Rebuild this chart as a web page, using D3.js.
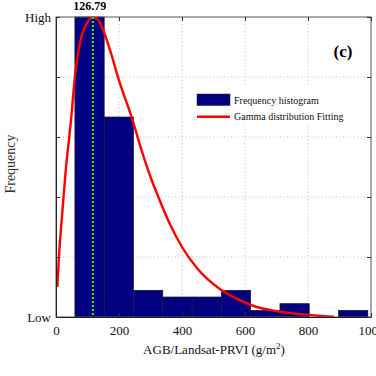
<!DOCTYPE html>
<html><head><meta charset="utf-8">
<script src="https://cdn.jsdelivr.net/npm/d3@7"></script>
<style>body{margin:0;background:#fff}svg{display:block}text{font-family:"Liberation Serif","Times New Roman",serif}</style>
</head><body>
<svg id="c" width="376" height="376"></svg>
<script>
const binEdges = [60, 153, 246, 339, 432, 525, 618, 711, 804, 897, 990];
const binCounts = [45, 30, 4, 3, 3, 4, 1, 2, 0, 1];
const curveX = [4, 10, 18, 30, 47.6, 60, 76, 95, 116.5, 133, 150, 175, 200, 240, 275, 300, 325, 360, 400, 450, 520, 580, 637, 700, 760, 820, 882];
const curveY = [4.5, 9.5, 14.5, 21.5, 29.5, 36.0, 41.1, 43.8, 44.9, 44.6, 43.0, 39.5, 35.5, 30.0, 24.5, 21.0, 18.0, 14.1, 10.5, 7.2, 4.2, 2.6, 1.5, 0.9, 0.5, 0.25, 0.05];
const modeValue = 117;
const modeLabel = "126.79";
const xTicks = [0, 200, 400, 600, 800, 1000];
const xTickLabels = ["0", "200", "400", "600", "800", "1000"];
const yTicks = [0, 9, 18, 27, 36, 45];
const yTickLabels = ["Low", "", "", "", "", "High"];
const legendLabels = ["Frequency histogram", "Gamma distribution Fitting"];

const svg = d3.select("#c");
const L = 56, R = 371, T = 17, B = 317;
const x = d3.scaleLinear().domain([0, 1000]).range([L, R]);
const y = d3.scaleLinear().domain([0, 45]).range([B, T]);

svg.append("clipPath").attr("id","clip").append("rect").attr("x",L).attr("y",T-2).attr("width",R-L).attr("height",B-T+2);

// grid
const grid = svg.append("g").attr("stroke","#b0b0b0").attr("stroke-width",0.8).attr("stroke-dasharray","1,2.5");
grid.selectAll("line.v").data(xTicks.slice(1,-1)).join("line")
  .attr("x1",d=>x(d)).attr("x2",d=>x(d)).attr("y1",T).attr("y2",B);
grid.selectAll("line.h").data(yTicks.slice(1,-1)).join("line")
  .attr("y1",d=>y(d)).attr("y2",d=>y(d)).attr("x1",L).attr("x2",R);

// bars
const bars = binCounts.map((c,i)=>({x0:binEdges[i], x1:binEdges[i+1], c}));
svg.append("g").selectAll("rect").data(bars.filter(b=>b.c>0)).join("rect")
  .attr("x",d=>x(d.x0)).attr("width",d=>x(d.x1)-x(d.x0))
  .attr("y",d=>y(d.c)).attr("height",d=>y(0)-y(d.c))
  .attr("fill","#000080").attr("stroke","#1a1a2e").attr("stroke-width",0.7);

// legend background
svg.append("rect").attr("x",190).attr("y",87).attr("width",160).attr("height",37).attr("fill","#fff");

// curve
const pts = curveX.map((v,i)=>[v, curveY[i]]);
svg.append("path").datum(pts)
  .attr("clip-path","url(#clip)")
  .attr("d", d3.line().x(d=>x(d[0])).y(d=>y(d[1])).curve(d3.curveMonotoneX))
  .attr("fill","none").attr("stroke","#ff0000").attr("stroke-width",2.4);

// mode line
svg.append("line").attr("x1",x(modeValue)).attr("x2",x(modeValue)).attr("y1",T).attr("y2",B)
  .attr("stroke","#22ee22").attr("stroke-width",2.2).attr("stroke-dasharray","2,2");
svg.append("text").attr("x",x(modeValue)-3).attr("y",10).attr("text-anchor","middle")
  .attr("font-size",12).attr("font-weight","bold").text(modeLabel);

// frame
svg.append("rect").attr("x",L).attr("y",T).attr("width",R-L).attr("height",B-T)
  .attr("fill","none").attr("stroke","#555").attr("stroke-width",1);

// axes
const xAxis = d3.axisBottom(x).tickValues(xTicks).tickFormat((d,i)=>xTickLabels[i]).tickSizeInner(-4).tickSizeOuter(0).tickPadding(9);
const gx = svg.append("g").attr("transform",`translate(0,${B})`).call(xAxis);
const yAxis = d3.axisLeft(y).tickValues(yTicks).tickFormat((d,i)=>yTickLabels[i]).tickSizeInner(-4).tickSizeOuter(0).tickPadding(5);
const gy = svg.append("g").attr("transform",`translate(${L},0)`).call(yAxis);
const xTop = d3.axisTop(x).tickValues(xTicks).tickFormat("").tickSizeInner(-4).tickSizeOuter(0);
svg.append("g").attr("transform",`translate(0,${T})`).call(xTop).select(".domain").remove();
const yRight = d3.axisRight(y).tickValues(yTicks).tickFormat("").tickSizeInner(-4).tickSizeOuter(0);
svg.append("g").attr("transform",`translate(${R},0)`).call(yRight).select(".domain").remove();
[gx, gy].forEach(g=>{
  g.select(".domain").attr("stroke","#222");
  g.selectAll("text").attr("font-family","Liberation Serif").attr("font-size",13).attr("fill","#111");
});
svg.selectAll(".tick line").attr("stroke","#333");

// axis labels
const xl = svg.append("text").attr("x",214).attr("y",354).attr("text-anchor","middle").attr("font-size",13).attr("fill","#111");
xl.append("tspan").text("AGB/Landsat-PRVI (g/m");
xl.append("tspan").attr("dy",-5).attr("font-size",9).text("2");
xl.append("tspan").attr("dy",5).text(")");
svg.append("text").attr("transform","translate(15,164) rotate(-90)").attr("text-anchor","middle")
  .attr("font-size",14).attr("fill","#333").text("Frequency");

// panel label
svg.append("text").attr("x",343).attr("y",57).attr("text-anchor","middle").attr("font-size",17).attr("font-weight","bold").text("(c)");

// legend
svg.append("rect").attr("x",197).attr("y",94).attr("width",33).attr("height",11.5).attr("fill","#000080").attr("stroke","#1a1a2e").attr("stroke-width",0.5);
svg.append("line").attr("x1",197).attr("x2",230).attr("y1",116.7).attr("y2",116.7).attr("stroke","#ff0000").attr("stroke-width",2.4);
svg.selectAll("text.lg").data(legendLabels).join("text").attr("class","lg")
  .attr("x",234).attr("y",(d,i)=>103.5+i*16.5).attr("font-size",10).attr("fill","#111").text(d=>d);
</script>
</body></html>
